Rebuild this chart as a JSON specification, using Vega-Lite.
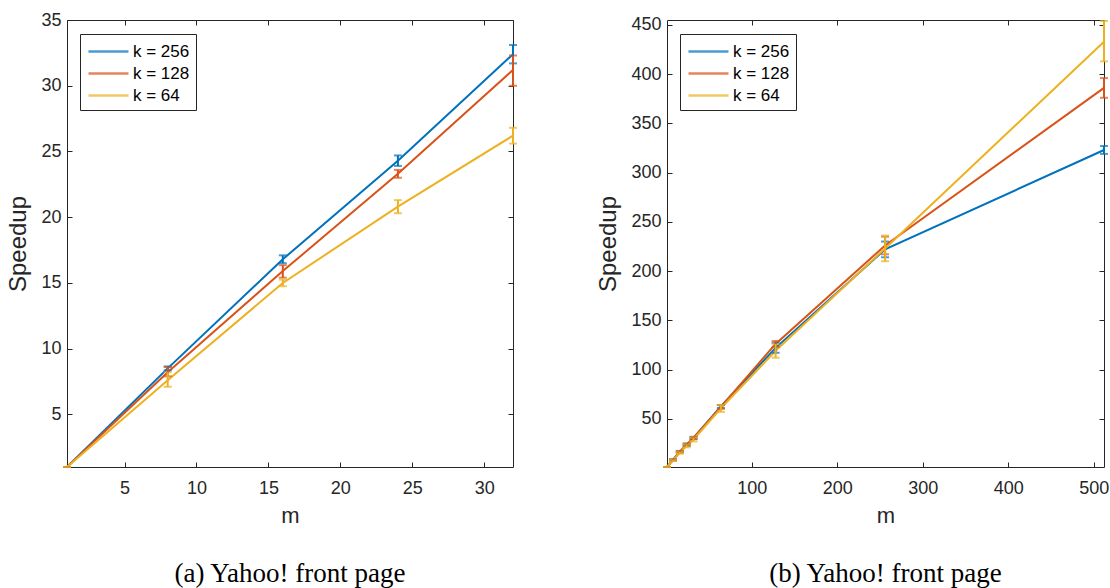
{
  "$schema": "https://vega.github.io/schema/vega-lite/v6.json",
  "padding": {"left": 6, "top": 10, "right": 0, "bottom": 0},
  "autosize": {"type": "pad"},
  "spacing": 78,
  "config": {
    "font": "Liberation Sans",
    "view": {"stroke": "#262626", "strokeWidth": 1},
    "axis": {
      "domain": false, "grid": false, "tickSize": -5, "tickColor": "#262626", "tickWidth": 1,
      "labelColor": "#262626", "labelFontSize": 18, "labelFont": "Liberation Sans", "labelPadding": 11,
      "titleFontWeight": "normal", "titleColor": "#262626", "titleFont": "Liberation Sans", "titlePadding": 10
    },
    "axisX": {"labelPadding": 17, "titlePadding": 8, "titleFontSize": 22},
    "axisY": {"titleFontSize": 24},
    "legend": {
      "strokeColor": "#262626", "fillColor": "white", "padding": 6,
      "symbolType": "M-0.9,0L3.1,0", "symbolSize": 400, "symbolStrokeWidth": 2.5,
      "labelFontSize": 17, "labelFont": "Liberation Sans", "labelColor": "#000", "labelOffset": 24, "rowPadding": 2
    },
    "title": {"font": "Liberation Serif", "fontSize": 27, "fontWeight": "normal", "color": "#000", "orient": "bottom", "anchor": "middle", "offset": 35}
  },
  "resolve": {"scale": {"color": "independent"}, "legend": {"color": "independent"}},
  "hconcat": [
    {
      "width": 446, "height": 447,
      "title": {"text": "(a) Yahoo! front page"},
      "data": {"values": [
        {"k": "k = 256", "m": 1, "s": 1, "lo": 1, "hi": 1},
        {"k": "k = 256", "m": 8, "s": 8.5, "lo": 8.35, "hi": 8.65},
        {"k": "k = 256", "m": 16, "s": 16.8, "lo": 16.5, "hi": 17.1},
        {"k": "k = 256", "m": 24, "s": 24.3, "lo": 23.9, "hi": 24.7},
        {"k": "k = 256", "m": 32, "s": 32.4, "lo": 31.7, "hi": 33.1},
        {"k": "k = 128", "m": 1, "s": 1, "lo": 1, "hi": 1},
        {"k": "k = 128", "m": 8, "s": 8.2, "lo": 7.9, "hi": 8.6},
        {"k": "k = 128", "m": 16, "s": 15.9, "lo": 15.4, "hi": 16.35},
        {"k": "k = 128", "m": 24, "s": 23.3, "lo": 23.0, "hi": 23.6},
        {"k": "k = 128", "m": 32, "s": 31.2, "lo": 30.0, "hi": 32.3},
        {"k": "k = 64", "m": 1, "s": 1, "lo": 1, "hi": 1},
        {"k": "k = 64", "m": 8, "s": 7.6, "lo": 7.1, "hi": 8.2},
        {"k": "k = 64", "m": 16, "s": 15.0, "lo": 14.75, "hi": 15.25},
        {"k": "k = 64", "m": 24, "s": 20.8, "lo": 20.3, "hi": 21.3},
        {"k": "k = 64", "m": 32, "s": 26.2, "lo": 25.6, "hi": 26.8}
      ]},
      "layer": [
        {
          "mark": {"type": "line", "strokeWidth": 2},
          "encoding": {
            "x": {"field": "m", "type": "quantitative", "scale": {"domain": [1, 32], "nice": false, "zero": false},
                  "axis": {"orient": "bottom", "values": [5, 10, 15, 20, 25, 30], "title": "m"}},
            "y": {"field": "s", "type": "quantitative", "scale": {"domain": [1, 35], "nice": false, "zero": false},
                  "axis": {"orient": "left", "values": [5, 10, 15, 20, 25, 30, 35], "title": "Speedup"}},
            "color": {"field": "k", "type": "nominal", "sort": null,
                      "scale": {"domain": ["k = 256", "k = 128", "k = 64"], "range": ["#0072BD", "#D95319", "#EDB120"]},
                      "legend": {"title": null, "orient": "none", "legendX": 13, "legendY": 14}}
          }
        },
        {
          "mark": {"type": "errorbar", "ticks": {"size": 8}, "thickness": 2},
          "encoding": {
            "x": {"field": "m", "type": "quantitative",
                  "axis": {"orient": "top", "labels": false, "title": null, "values": [5, 10, 15, 20, 25, 30]}},
            "y": {"field": "lo", "type": "quantitative",
                  "axis": {"orient": "right", "labels": false, "title": null, "values": [5, 10, 15, 20, 25, 30, 35]}},
            "y2": {"field": "hi"},
            "color": {"field": "k", "type": "nominal"}
          }
        }
      ],
      "resolve": {"axis": {"x": "independent", "y": "independent"}}
    },
    {
      "width": 437, "height": 447,
      "title": {"text": "(b) Yahoo! front page"},
      "data": {"values": [
        {"k": "k = 256", "m": 1, "s": 1, "lo": 1, "hi": 1},
        {"k": "k = 256", "m": 8, "s": 8.3, "lo": 7.8, "hi": 8.8},
        {"k": "k = 256", "m": 16, "s": 16.5, "lo": 15.8, "hi": 17.2},
        {"k": "k = 256", "m": 24, "s": 23.5, "lo": 22.5, "hi": 24.5},
        {"k": "k = 256", "m": 32, "s": 30.5, "lo": 29.5, "hi": 31.5},
        {"k": "k = 256", "m": 64, "s": 62.5, "lo": 61, "hi": 64},
        {"k": "k = 256", "m": 128, "s": 122, "lo": 117, "hi": 127},
        {"k": "k = 256", "m": 256, "s": 222, "lo": 214, "hi": 230},
        {"k": "k = 256", "m": 512, "s": 323, "lo": 319, "hi": 327},
        {"k": "k = 128", "m": 1, "s": 1, "lo": 1, "hi": 1},
        {"k": "k = 128", "m": 8, "s": 8.2, "lo": 7.7, "hi": 8.7},
        {"k": "k = 128", "m": 16, "s": 16.5, "lo": 15.7, "hi": 17.3},
        {"k": "k = 128", "m": 24, "s": 24, "lo": 23, "hi": 25},
        {"k": "k = 128", "m": 32, "s": 30.5, "lo": 29.3, "hi": 31.7},
        {"k": "k = 128", "m": 64, "s": 62, "lo": 60, "hi": 64},
        {"k": "k = 128", "m": 128, "s": 126, "lo": 123, "hi": 129},
        {"k": "k = 128", "m": 256, "s": 226, "lo": 217, "hi": 235},
        {"k": "k = 128", "m": 512, "s": 386, "lo": 376, "hi": 396},
        {"k": "k = 64", "m": 1, "s": 1, "lo": 1, "hi": 1},
        {"k": "k = 64", "m": 8, "s": 7.8, "lo": 7.2, "hi": 8.4},
        {"k": "k = 64", "m": 16, "s": 15.5, "lo": 14.5, "hi": 16.5},
        {"k": "k = 64", "m": 24, "s": 22.5, "lo": 21, "hi": 24},
        {"k": "k = 64", "m": 32, "s": 29, "lo": 27, "hi": 31},
        {"k": "k = 64", "m": 64, "s": 60.5, "lo": 57, "hi": 64},
        {"k": "k = 64", "m": 128, "s": 119, "lo": 112, "hi": 126},
        {"k": "k = 64", "m": 256, "s": 223, "lo": 210, "hi": 236},
        {"k": "k = 64", "m": 512, "s": 433, "lo": 413, "hi": 454}
      ]},
      "layer": [
        {
          "mark": {"type": "line", "strokeWidth": 2},
          "encoding": {
            "x": {"field": "m", "type": "quantitative", "scale": {"domain": [1, 512], "nice": false, "zero": false},
                  "axis": {"orient": "bottom", "values": [100, 200, 300, 400, 500], "title": "m"}},
            "y": {"field": "s", "type": "quantitative", "scale": {"domain": [1, 455], "nice": false, "zero": false},
                  "axis": {"orient": "left", "values": [50, 100, 150, 200, 250, 300, 350, 400, 450], "title": "Speedup"}},
            "color": {"field": "k", "type": "nominal", "sort": null,
                      "scale": {"domain": ["k = 256", "k = 128", "k = 64"], "range": ["#0072BD", "#D95319", "#EDB120"]},
                      "legend": {"title": null, "orient": "none", "legendX": 13, "legendY": 14}}
          }
        },
        {
          "mark": {"type": "errorbar", "ticks": {"size": 8}, "thickness": 2},
          "encoding": {
            "x": {"field": "m", "type": "quantitative",
                  "axis": {"orient": "top", "labels": false, "title": null, "values": [100, 200, 300, 400, 500]}},
            "y": {"field": "lo", "type": "quantitative",
                  "axis": {"orient": "right", "labels": false, "title": null, "values": [50, 100, 150, 200, 250, 300, 350, 400, 450]}},
            "y2": {"field": "hi"},
            "color": {"field": "k", "type": "nominal"}
          }
        }
      ],
      "resolve": {"axis": {"x": "independent", "y": "independent"}}
    }
  ]
}
